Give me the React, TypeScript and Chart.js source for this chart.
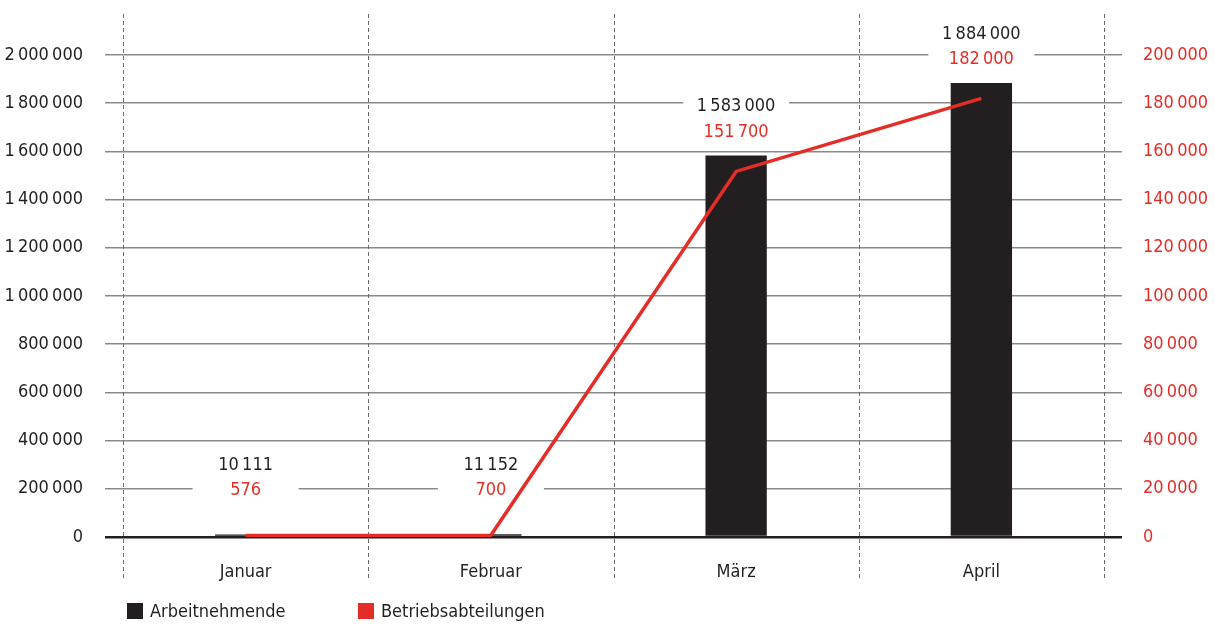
import React, { useEffect, useRef } from "react";
import { Chart, registerables } from "chart.js";

Chart.register(...registerables);

const categories = ["Januar", "Februar", "März", "April"];
const arbeitnehmende = [10111, 11152, 1583000, 1884000];
const betriebsabteilungen = [576, 700, 151700, 182000];
const leftTicksMax = 2000000;
const leftStep = 200000;
const rightTicksMax = 200000;
const rightStep = 20000;
const seriesNames = ["Arbeitnehmende", "Betriebsabteilungen"];

const BLACK = "#231f20";
const RED = "#e52d27";
const GRID = "#8a8a8a";
const FONT = "'DejaVu Sans Condensed', 'Liberation Sans Narrow', Roboto, sans-serif";
const FSIZE = 18;

const fmt = (v: number) =>
  Math.round(v)
    .toString()
    .replace(/\B(?=(\d{3})+(?!\d))/g, "\u2009");

const overlayPlugin = {
  id: "overlay",
  beforeDatasetsDraw(chart: any) {
    const { ctx, chartArea } = chart;
    const x = chart.scales.x;
    const y = chart.scales.y;
    ctx.save();
    ctx.strokeStyle = "#6a6a6a";
    ctx.lineWidth = 1;
    ctx.setLineDash([4, 3]);
    const n = categories.length;
    for (let i = 0; i <= n; i++) {
      let px: number;
      if (i === 0) px = chartArea.left;
      else if (i === n) px = chartArea.right;
      else px = (x.getPixelForValue(i - 1) + x.getPixelForValue(i)) / 2;
      px = Math.round(px) + 0.5;
      ctx.beginPath();
      ctx.moveTo(px, 14);
      ctx.lineTo(px, 578);
      ctx.stroke();
    }
    ctx.setLineDash([]);
    ctx.font = `${FSIZE}px ${FONT}`;
    ctx.textAlign = "center";
    ctx.textBaseline = "middle";
    categories.forEach((_, i) => {
      const cx = x.getPixelForValue(i);
      const top = y.getPixelForValue(arbeitnehmende[i]);
      const by = Math.min(top - 49, chartArea.bottom - 72);
      const ry = by + 25.5;
      ctx.fillStyle = "#ffffff";
      ctx.fillRect(cx - 53, by - 13, 106, ry - by + 26);
      ctx.fillStyle = BLACK;
      ctx.fillText(fmt(arbeitnehmende[i]), cx, by);
      ctx.fillStyle = RED;
      ctx.fillText(fmt(betriebsabteilungen[i]), cx, ry);
    });
    ctx.restore();
  },
  afterDraw(chart: any) {
    const { ctx } = chart;
    ctx.save();
    ctx.font = `${FSIZE}px ${FONT}`;
    ctx.textBaseline = "middle";
    ctx.textAlign = "left";
    const ly = 611;
    const items = [
      { label: seriesNames[0], color: BLACK, x: 127 },
      { label: seriesNames[1], color: RED, x: 358 },
    ];
    items.forEach((it) => {
      ctx.fillStyle = it.color;
      ctx.fillRect(it.x, ly - 8, 16, 16);
      ctx.fillStyle = BLACK;
      ctx.fillText(it.label, it.x + 23, ly + 1);
    });
    ctx.restore();
  },
};

export default function App() {
  const ref = useRef<HTMLCanvasElement>(null);
  useEffect(() => {
    if (!ref.current) return;
    const gridColor = (c: any) => (c.tick && c.tick.value === 0 ? BLACK : GRID);
    const gridWidth = (c: any) => (c.tick && c.tick.value === 0 ? 2.5 : 1.5);
    const chart = new Chart(ref.current, {
      type: "bar",
      data: {
        labels: categories,
        datasets: [
          {
            type: "bar",
            label: seriesNames[0],
            data: arbeitnehmende,
            backgroundColor: BLACK,
            barPercentage: 0.25,
            categoryPercentage: 1,
            yAxisID: "y",
            order: 1,
          } as any,
          {
            type: "line",
            label: seriesNames[1],
            data: betriebsabteilungen,
            borderColor: RED,
            backgroundColor: RED,
            borderWidth: 3.5,
            pointRadius: 0,
            tension: 0,
            yAxisID: "y1",
            order: 0,
          } as any,
        ],
      },
      options: {
        responsive: false,
        animation: false,
        devicePixelRatio: 1,
        layout: { padding: { top: 55, bottom: 28, left: 0, right: 0 } },
        plugins: {
          legend: { display: false },
          tooltip: { enabled: false },
        },
        scales: {
          x: {
            offset: true,
            grid: { display: false },
            border: { display: false },
            ticks: { color: BLACK, font: { family: FONT, size: FSIZE }, padding: 17 },
            afterFit: (s: any) => {
              s.height = 60;
            },
          },
          y: {
            position: "left",
            min: 0,
            max: leftTicksMax,
            ticks: {
              stepSize: leftStep,
              color: BLACK,
              font: { family: FONT, size: FSIZE },
              padding: 22,
              callback: (v: any) => fmt(Number(v)),
            },
            grid: { color: gridColor, lineWidth: gridWidth, tickLength: 18 },
            border: { display: false },
            afterFit: (s: any) => {
              s.width = 123;
            },
          },
          y1: {
            position: "right",
            min: 0,
            max: rightTicksMax,
            ticks: {
              stepSize: rightStep,
              color: RED,
              font: { family: FONT, size: FSIZE },
              padding: 21,
              callback: (v: any) => fmt(Number(v)),
            },
            grid: { drawOnChartArea: false, color: gridColor, lineWidth: gridWidth, tickLength: 18 },
            border: { display: false },
            afterFit: (s: any) => {
              s.width = 111;
            },
          },
        },
      } as any,
      plugins: [overlayPlugin],
    });
    return () => chart.destroy();
  }, []);
  return (
    <div style={{ position: "absolute", left: 0, top: 0, width: 1215, height: 625, background: "#fff" }}>
      <canvas ref={ref} width={1215} height={625} />
    </div>
  );
}
